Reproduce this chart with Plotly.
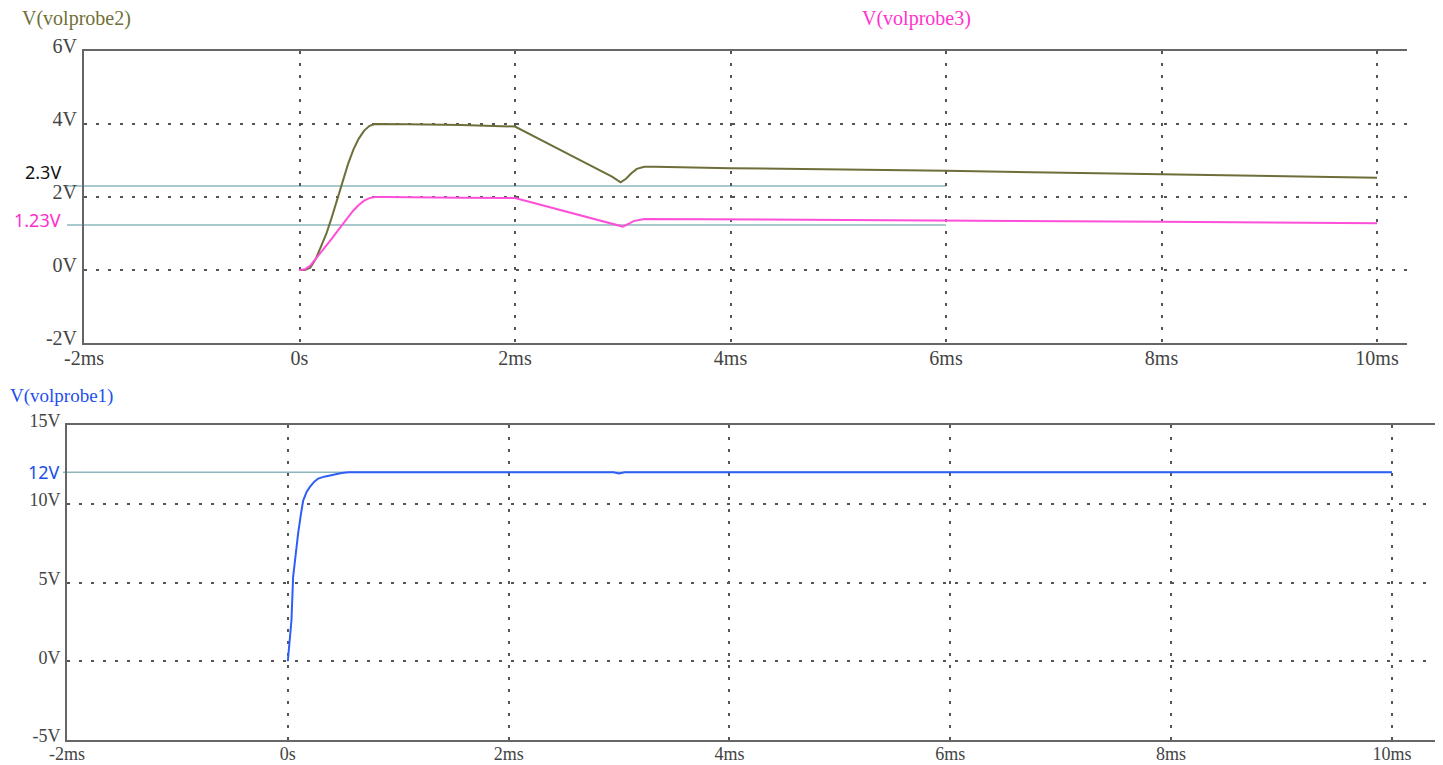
import plotly.graph_objects as go

W, H = 1443, 765

# --- waveform data (time in ms, voltage in V) ---
t_probe2 = [0, 0.05, 0.1, 0.15, 0.2, 0.25, 0.3, 0.35, 0.4, 0.45, 0.5, 0.55, 0.6, 0.65, 0.7,
            0.8, 1.0, 1.5, 2.0, 2.5, 2.9, 2.98, 3.03, 3.08, 3.13, 3.2, 3.3, 4.0, 6.0, 8.0, 10.0]
v_probe2 = [0, 0.0, 0.06, 0.3, 0.65, 1.0, 1.45, 1.95, 2.45, 2.9, 3.3, 3.6, 3.82, 3.95, 4.0,
            4.0, 3.99, 3.97, 3.93, 3.17, 2.56, 2.40, 2.50, 2.65, 2.77, 2.83, 2.83, 2.79, 2.72, 2.62, 2.53]

t_probe3 = [0, 0.05, 0.1, 0.15, 0.2, 0.25, 0.3, 0.35, 0.4, 0.45, 0.5, 0.55, 0.6, 0.65, 0.7,
            0.8, 1.0, 1.5, 2.0, 2.5, 2.95, 3.0, 3.05, 3.1, 3.2, 4.0, 6.0, 8.0, 10.0]
v_probe3 = [0, 0.02, 0.12, 0.3, 0.5, 0.68, 0.86, 1.06, 1.26, 1.46, 1.63, 1.78, 1.9, 1.97, 2.0,
            2.0, 1.99, 1.98, 1.97, 1.58, 1.22, 1.19, 1.26, 1.34, 1.40, 1.39, 1.36, 1.32, 1.28]

t_probe1 = [0, 0.01, 0.033, 0.048, 0.07, 0.093, 0.12, 0.139, 0.17, 0.2, 0.24, 0.275, 0.33,
            0.38, 0.43, 0.486, 0.55, 1.0, 2.0, 2.95, 3.0, 3.05, 3.2, 4.0, 6.0, 8.0, 10.0]
v_probe1 = [0, 0.8, 2.6, 5.35, 6.9, 8.1, 9.4, 10.2, 10.75, 11.07, 11.4, 11.6, 11.72,
            11.8, 11.88, 11.95, 12.0, 12.0, 12.0, 12.0, 11.92, 12.0, 12.0, 12.0, 12.0, 12.0, 12.0]

# cursor readouts
cursor_top = [2.3, 1.23]
cursor_top_text = ["2.3V", "1.23V"]
cursor_top_color = ["#111111", "#ff2ccc"]
cursor_top_label_shift = [14, 5]   # px, keeps the readouts clear of the tick labels
cursor_top_end = 6.0      # ms, where the cursor lines stop
cursor_bottom = 12.0
cursor_bottom_text = "12V"

# tick labels
x_tickvals = [-2, 0, 2, 4, 6, 8, 10]
x_ticktext = ["-2ms", "0s", "2ms", "4ms", "6ms", "8ms", "10ms"]
y1_tickvals = [-2, 0, 2, 4, 6]
y1_ticktext = ["-2V", "0V", "2V", "4V", "6V"]
y2_tickvals = [-5, 0, 5, 10, 15]
y2_ticktext = ["-5V", "0V", "5V", "10V", "15V"]

# colours / fonts
OLIVE = "#6e6e3a"
MAGENTA = "#ff4fd8"
BLUE = "#2f5ef7"
TEAL = "#8bb7bd"
AXIS = "#666666"
GRID = "#555555"
SERIF = "Liberation Serif, Times New Roman, Times, serif"
TOPFONT = dict(family=SERIF, size=20, color="#444444")
BOTFONT = dict(family=SERIF, size=18, color="#444444")

# subplot placement (pixel -> paper)
def px_x(p):
    return p / W

def px_y(p):
    return 1 - p / H

top_dom_x = [px_x(84), px_x(1407)]
top_dom_y = [px_y(343), px_y(51)]
bot_dom_x = [px_x(67), px_x(1435)]
bot_dom_y = [px_y(740), px_y(425)]
top_xrange = [-2, 10.278]
bot_xrange = [-2, 10.39]

fig = go.Figure()

fig.add_trace(go.Scatter(x=t_probe2, y=v_probe2, mode="lines", xaxis="x", yaxis="y",
                         line=dict(color=OLIVE, width=2), showlegend=False))
fig.add_trace(go.Scatter(x=t_probe3, y=v_probe3, mode="lines", xaxis="x", yaxis="y",
                         line=dict(color=MAGENTA, width=2), showlegend=False))
fig.add_trace(go.Scatter(x=t_probe1, y=v_probe1, mode="lines", xaxis="x2", yaxis="y2",
                         line=dict(color=BLUE, width=2), showlegend=False))

axis_common = dict(
    showline=True, linecolor=AXIS, linewidth=2, automargin=False,
    showgrid=True, gridcolor=GRID, gridwidth=1.5, griddash="3px,9px",
    zeroline=False, ticks="",
)

fig.update_layout(
    width=W, height=H,
    margin=dict(l=0, r=0, t=0, b=0, autoexpand=False),
    paper_bgcolor="white", plot_bgcolor="white",
    xaxis=dict(domain=top_dom_x, range=top_xrange, anchor="y", mirror=True, tickfont=TOPFONT,
               tickvals=x_tickvals, ticktext=x_ticktext, ticklabelstandoff=-4, **axis_common),
    yaxis=dict(domain=top_dom_y, range=[-2, 6], anchor="x", tickfont=TOPFONT,
               tickvals=y1_tickvals, ticktext=y1_ticktext, ticklabelstandoff=1,
               ticklabelshift=-5, **axis_common),
    xaxis2=dict(domain=bot_dom_x, range=bot_xrange, anchor="y2", mirror=True, tickfont=BOTFONT,
                tickvals=x_tickvals, ticktext=x_ticktext, ticklabelstandoff=-4, **axis_common),
    yaxis2=dict(domain=bot_dom_y, range=[-5, 15], anchor="x2", tickfont=BOTFONT,
                tickvals=y2_tickvals, ticktext=y2_ticktext, ticklabelstandoff=1,
                ticklabelshift=-4, **axis_common),
)

# cursor lines, top panel: from left of the axis to the cursor time
def data_to_paper_x(x, dom, rng):
    return dom[0] + (x - rng[0]) / (rng[1] - rng[0]) * (dom[1] - dom[0])

top_cursor_x1 = data_to_paper_x(cursor_top_end, top_dom_x, top_xrange)
for val, txt, col, sh in zip(cursor_top, cursor_top_text, cursor_top_color, cursor_top_label_shift):
    fig.add_shape(type="line", xref="paper", yref="y", x0=px_x(67), x1=top_cursor_x1,
                  y0=val, y1=val, line=dict(color=TEAL, width=1.5), layer="below")
    fig.add_annotation(xref="paper", yref="y", x=px_x(63), y=val, yshift=sh, text=txt,
                       showarrow=False, xanchor="right", yanchor="middle",
                       font=dict(family="Noto Sans", size=18, color=col))

bot_cursor_x1 = data_to_paper_x(10, bot_dom_x, bot_xrange)
fig.add_shape(type="line", xref="paper", yref="y2", x0=px_x(63), x1=bot_cursor_x1,
              y0=cursor_bottom, y1=cursor_bottom, line=dict(color=TEAL, width=1.5), layer="below")
fig.add_annotation(xref="paper", yref="y2", x=px_x(62), y=cursor_bottom, text=cursor_bottom_text,
                   showarrow=False, xanchor="right", yanchor="middle",
                   font=dict(family="Noto Sans", size=18, color="#1a4fe8"))

# trace names
TITLEFONT = dict(family=SERIF, size=20)
fig.add_annotation(xref="paper", yref="paper", x=px_x(20), y=px_y(18), text="V(volprobe2)",
                   showarrow=False, xanchor="left", yanchor="middle",
                   font=dict(color="#707038", **TITLEFONT))
fig.add_annotation(xref="paper", yref="paper", x=px_x(860), y=px_y(18), text="V(volprobe3)",
                   showarrow=False, xanchor="left", yanchor="middle",
                   font=dict(color="#ff33cc", **TITLEFONT))
fig.add_annotation(xref="paper", yref="paper", x=px_x(8), y=px_y(396), text="V(volprobe1)",
                   showarrow=False, xanchor="left", yanchor="middle",
                   font=dict(color="#2250ee", size=19, family=SERIF))

fig.write_html("out.html")
